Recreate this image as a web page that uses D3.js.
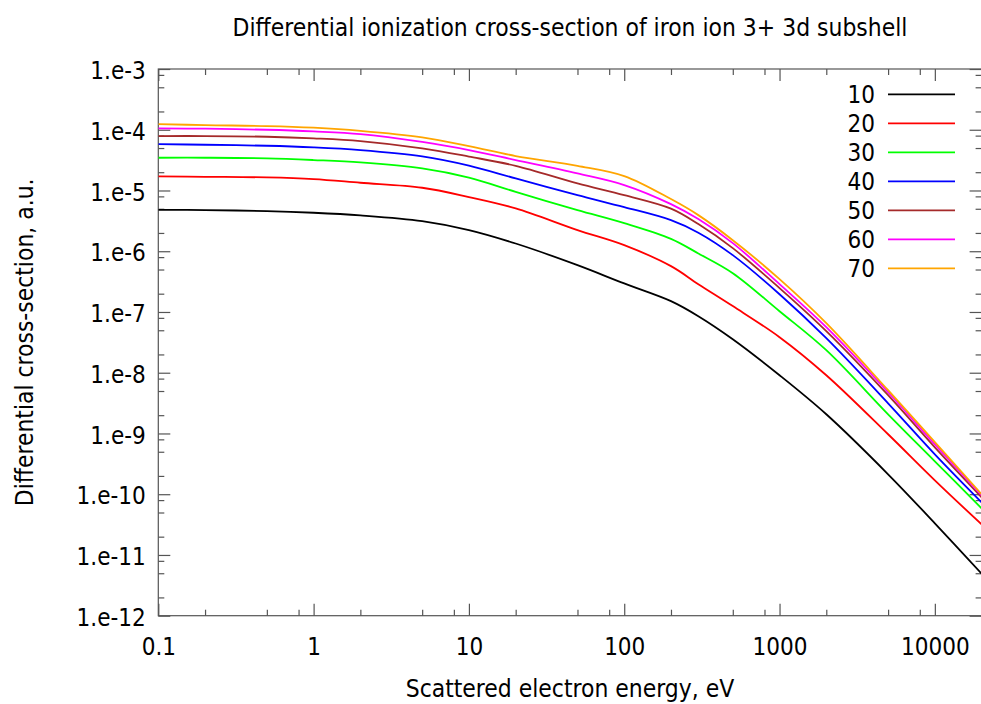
<!DOCTYPE html>
<html>
<head>
<meta charset="utf-8">
<script src="https://cdn.jsdelivr.net/npm/d3@7"></script>
<style>
  body { margin: 0; background: #fff; }
  svg text { font-family: "DejaVu Sans", sans-serif; font-stretch: condensed; fill: #000; }
</style>
</head>
<body>
<div id="chart"></div>
<script>
// scattered electron energy, eV
var energies = [0.1, 0.2, 0.5, 1, 2, 5, 10, 20, 50, 100, 200, 300, 500, 1000, 2000, 5000, 10000, 20000];

// differential cross-section, a.u., one list per incident energy
var cs10 = [4.81e-6, 4.75e-6, 4.58e-6, 4.30e-6, 3.89e-6, 3.13e-6, 2.23e-6, 1.34e-6, 5.9e-7, 2.95e-7, 1.51e-7, 8.53e-8, 3.56e-8, 9.09e-9, 2.07e-9, 2.13e-10, 3.32e-11, 4.92e-12];
var cs20 = [1.71e-5, 1.68e-5, 1.64e-5, 1.54e-5, 1.34e-5, 1.11e-5, 7.8e-6, 5.07e-6, 2.23e-6, 1.26e-6, 5.68e-7, 2.87e-7, 1.25e-7, 3.85e-8, 9.1e-9, 9.7e-10, 1.69e-10, 3.19e-11];
var cs30 = [3.46e-5, 3.46e-5, 3.38e-5, 3.17e-5, 2.90e-5, 2.31e-5, 1.63e-5, 9.5e-6, 4.75e-6, 2.90e-6, 1.60e-6, 9.2e-7, 4.36e-7, 1.03e-7, 2.35e-8, 2.07e-9, 3.48e-10, 5.86e-11];
var cs40 = [5.81e-5, 5.66e-5, 5.45e-5, 5.13e-5, 4.63e-5, 3.65e-5, 2.57e-5, 1.58e-5, 8.4e-6, 5.33e-6, 3.25e-6, 2.02e-6, 8.62e-7, 1.96e-7, 3.7e-8, 3.14e-9, 4.54e-10, 7.35e-11];
var cs50 = [7.87e-5, 7.87e-5, 7.67e-5, 7.22e-5, 6.52e-5, 4.94e-5, 3.62e-5, 2.55e-5, 1.31e-5, 8.4e-6, 5.03e-6, 2.80e-6, 1.125e-6, 2.47e-7, 4.83e-8, 4.26e-9, 5.9e-10, 8.9e-11];
var cs60 = [1.05e-4, 1.04e-4, 1.0e-4, 9.4e-5, 8.5e-5, 6.3e-5, 4.63e-5, 3.17e-5, 1.91e-5, 1.23e-5, 5.97e-6, 3.38e-6, 1.36e-6, 2.87e-7, 5.62e-8, 4.77e-9, 6.6e-10, 9.6e-11];
var cs70 = [1.24e-4, 1.19e-4, 1.15e-4, 1.08e-4, 9.6e-5, 7.5e-5, 5.39e-5, 3.69e-5, 2.55e-5, 1.73e-5, 7.22e-6, 3.93e-6, 1.52e-6, 3.47e-7, 6.54e-8, 5.15e-9, 7.2e-10, 1.0e-10];

var seriesNames = ['10', '20', '30', '40', '50', '60', '70'];
var seriesValues = [cs10, cs20, cs30, cs40, cs50, cs60, cs70];
var seriesColors = ['#000000', '#ff0000', '#00ff00', '#0000ff', '#a52a2a', '#ff00ff', '#ffa500'];

var xTicks = [0.1, 1, 10, 100, 1000, 10000];
var xTickLabels = ['0.1', '1', '10', '100', '1000', '10000'];
var yTicks = [1e-3, 1e-4, 1e-5, 1e-6, 1e-7, 1e-8, 1e-9, 1e-10, 1e-11, 1e-12];
var yTickLabels = ['1.e-3', '1.e-4', '1.e-5', '1.e-6', '1.e-7', '1.e-8', '1.e-9', '1.e-10', '1.e-11', '1.e-12'];

var width = 981, height = 704;
var margin = {top: 69, right: -0.6, bottom: 88.3, left: 158.3};
var w = width - margin.left - margin.right;
var h = height - margin.top - margin.bottom;

var svg = d3.select('#chart').append('svg')
  .attr('width', width)
  .attr('height', height);

var g = svg.append('g')
  .attr('transform', 'translate(' + margin.left + ',' + margin.top + ')');

var x = d3.scaleLog().domain([0.1, 20000]).range([0, w]);
var y = d3.scaleLog().domain([1e-12, 1e-3]).range([h, 0]);

// minor ticks at 2, 5, 8 of every decade
function minorTicks(lo, hi) {
  var out = [];
  for (var e = Math.floor(Math.log10(lo)); e <= Math.ceil(Math.log10(hi)); e++) {
    [2, 5, 8].forEach(function(m) {
      var v = m * Math.pow(10, e);
      if (v > lo && v < hi) out.push(v);
    });
  }
  return out;
}
var xMinor = minorTicks(0.1, 20000);
var yMinor = minorTicks(1e-12, 1e-3);

var tickColor = '#555';
var fontSize = 24;
var titleSize = 24.4;

function styleAxis(sel) {
  sel.select('.domain').remove();
  sel.selectAll('.tick line').attr('stroke', tickColor).attr('stroke-width', 1.2);
  sel.selectAll('.tick text').style('font-size', fontSize + 'px').attr('fill', '#000');
}

// bottom
g.append('g').attr('transform', 'translate(0,' + h + ')')
  .call(d3.axisBottom(x).tickValues(xTicks).tickSizeInner(-12).tickSizeOuter(0).tickPadding(22)
    .tickFormat(function(d, i) { return xTickLabels[i]; }))
  .call(styleAxis);
g.append('g').attr('transform', 'translate(0,' + h + ')')
  .call(d3.axisBottom(x).tickValues(xMinor).tickSizeInner(-6).tickSizeOuter(0).tickFormat(''))
  .call(styleAxis);
// top
g.append('g')
  .call(d3.axisTop(x).tickValues(xTicks).tickSizeInner(-12).tickSizeOuter(0).tickFormat(''))
  .call(styleAxis);
g.append('g')
  .call(d3.axisTop(x).tickValues(xMinor).tickSizeInner(-6).tickSizeOuter(0).tickFormat(''))
  .call(styleAxis);
// left
g.append('g')
  .call(d3.axisLeft(y).tickValues(yTicks).tickSizeInner(-12).tickSizeOuter(0).tickPadding(12.6)
    .tickFormat(function(d, i) { return yTickLabels[i]; }))
  .call(styleAxis)
  .selectAll('.tick text').attr('dy', '0.4em');
g.append('g')
  .call(d3.axisLeft(y).tickValues(yMinor).tickSizeInner(-6).tickSizeOuter(0).tickFormat(''))
  .call(styleAxis);
// right
g.append('g').attr('transform', 'translate(' + w + ',0)')
  .call(d3.axisRight(y).tickValues(yTicks).tickSizeInner(-12).tickSizeOuter(0).tickFormat(''))
  .call(styleAxis);
g.append('g').attr('transform', 'translate(' + w + ',0)')
  .call(d3.axisRight(y).tickValues(yMinor).tickSizeInner(-6).tickSizeOuter(0).tickFormat(''))
  .call(styleAxis);

// border
g.append('rect')
  .attr('width', w).attr('height', h)
  .attr('fill', 'none').attr('stroke', tickColor).attr('stroke-width', 1.2);

g.append('clipPath').attr('id', 'clip')
  .append('rect').attr('width', w).attr('height', h);

var line = d3.line()
  .x(function(d) { return x(d[0]); })
  .y(function(d) { return y(d[1]); })
  .curve(d3.curveCatmullRom.alpha(0.5));

seriesValues.forEach(function(vals, i) {
  g.append('path')
    .datum(energies.map(function(e, k) { return [e, vals[k]]; }))
    .attr('clip-path', 'url(#clip)')
    .attr('fill', 'none')
    .attr('stroke', seriesColors[i])
    .attr('stroke-width', 1.8)
    .attr('d', line);
});

// legend
var legend = svg.append('g');
seriesNames.forEach(function(name, i) {
  var cy = 94.3 + 29 * i;
  legend.append('text')
    .attr('x', 875).attr('y', cy).attr('dy', '0.38em')
    .attr('text-anchor', 'end')
    .style('font-size', fontSize + 'px')
    .text(name);
  legend.append('line')
    .attr('x1', 888).attr('x2', 955).attr('y1', cy).attr('y2', cy)
    .attr('stroke', seriesColors[i]).attr('stroke-width', 1.8);
});

// titles
svg.append('text')
  .attr('x', margin.left + w / 2).attr('y', 36)
  .attr('text-anchor', 'middle')
  .style('font-size', titleSize + 'px')
  .text('Differential ionization cross-section of iron ion 3+ 3d subshell');

svg.append('text')
  .attr('x', margin.left + w / 2).attr('y', 697)
  .attr('text-anchor', 'middle')
  .style('font-size', titleSize + 'px')
  .text('Scattered electron energy, eV');

svg.append('text')
  .attr('transform', 'translate(33,' + (margin.top + h / 2) + ') rotate(-90)')
  .attr('text-anchor', 'middle')
  .style('font-size', titleSize + 'px')
  .text('Differential cross-section, a.u.');
</script>
</body>
</html>
